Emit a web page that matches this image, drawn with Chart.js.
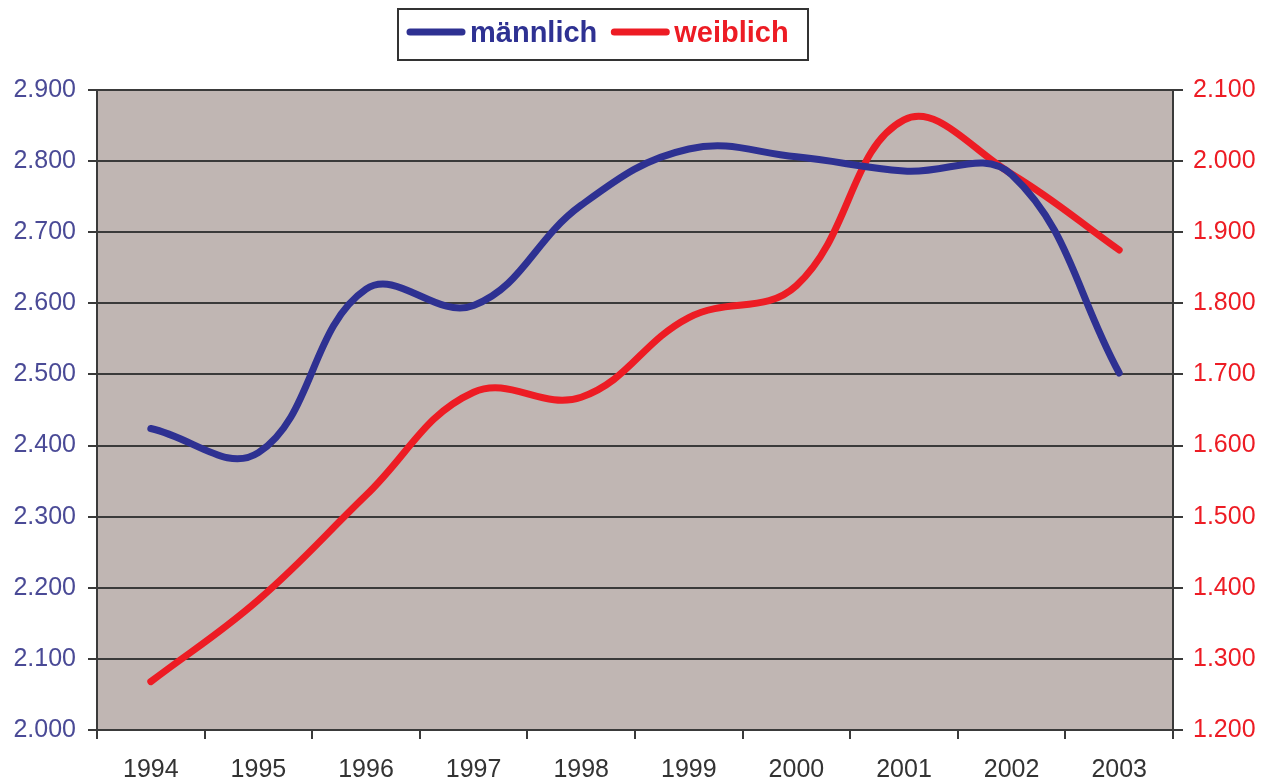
<!DOCTYPE html>
<html>
<head>
<meta charset="utf-8">
<script src="https://cdn.jsdelivr.net/npm/chart.js@4/dist/chart.umd.min.js"></script>
<style>
html,body{margin:0;padding:0;background:#fff;}
#wrap{width:1263px;height:778px;position:relative;}
</style>
</head>
<body>
<div id="wrap"><canvas id="c" width="1263" height="778"></canvas></div>
<script>
const categories = ['1994','1995','1996','1997','1998','1999','2000','2001','2002','2003'];
const maleValues = [2424, 2390, 2620, 2597, 2738, 2817, 2806, 2786, 2781, 2502];
const femaleValues = [1268, 1383, 1530, 1675, 1668, 1780, 1825, 2058, 1982, 1875];
const leftTickLabels = ['2.000','2.100','2.200','2.300','2.400','2.500','2.600','2.700','2.800','2.900'];
const rightTickLabels = ['1.200','1.300','1.400','1.500','1.600','1.700','1.800','1.900','2.000','2.100'];
const seriesNames = ['männlich','weiblich'];

const BLUE = '#2E3192';
const RED = '#ED1C24';
const GRID = '#3a3a3a';
const FONT = '"Liberation Sans", Arial, sans-serif';

const bgPlugin = {
  id: 'plotBg',
  beforeDraw(chart) {
    const a = chart.chartArea, ctx = chart.ctx;
    ctx.save();
    ctx.fillStyle = '#C0B6B3';
    ctx.fillRect(a.left, a.top, a.right - a.left, a.bottom - a.top);
    ctx.restore();
  }
};

const legendPlugin = {
  id: 'boxLegend',
  afterDraw(chart) {
    const ctx = chart.ctx;
    ctx.save();
    ctx.font = 'bold 29px ' + FONT;
    const bx = 398, by = 9, bw = 410, bh = 51;
    ctx.strokeStyle = '#333';
    ctx.lineWidth = 2;
    ctx.strokeRect(bx, by, bw, bh);
    let x = 407;
    const cy = 32;
    chart.data.datasets.forEach(ds => {
      ctx.strokeStyle = ds.borderColor;
      ctx.lineWidth = 7;
      ctx.lineCap = 'round';
      ctx.beginPath();
      ctx.moveTo(x + 3, cy);
      ctx.lineTo(x + 55, cy);
      ctx.stroke();
      ctx.fillStyle = ds.borderColor;
      ctx.textBaseline = 'middle';
      ctx.textAlign = 'left';
      ctx.fillText(ds.label, x + 63, cy + 2);
      x += 63 + ctx.measureText(ds.label).width + 14;
    });
    ctx.restore();
  }
};

new Chart(document.getElementById('c'), {
  type: 'line',
  data: {
    labels: categories,
    datasets: [
      { label: seriesNames[0], data: maleValues, yAxisID: 'y', borderColor: BLUE, backgroundColor: BLUE,
        borderWidth: 7, pointRadius: 0, tension: 0.4, borderCapStyle: 'round', fill: false },
      { label: seriesNames[1], data: femaleValues, yAxisID: 'y1', borderColor: RED, backgroundColor: RED,
        borderWidth: 7, pointRadius: 0, tension: 0.4, borderCapStyle: 'round', fill: false }
    ]
  },
  options: {
    responsive: false,
    animation: false,
    layout: { padding: { top: 90, left: 0, right: 0, bottom: 0 } },
    plugins: { legend: { display: false }, tooltip: { enabled: false } },
    scales: {
      x: {
        offset: true,
        grid: { offset: true, drawOnChartArea: false, drawTicks: true, tickLength: 9, color: GRID, lineWidth: 2 },
        border: { display: true, color: GRID, width: 2 },
        ticks: { color: '#333', font: { family: FONT, size: 25 }, padding: 16, maxRotation: 0, autoSkip: false },
        afterFit(s) { s.height = 48; }
      },
      y: {
        position: 'left',
        min: 2000, max: 2900,
        ticks: { stepSize: 100, color: '#4a4a96', font: { family: FONT, size: 25 }, padding: 12,
          callback: (v, i) => leftTickLabels[i] },
        grid: { color: GRID, lineWidth: 2, tickLength: 9, drawTicks: true },
        border: { display: true, color: GRID, width: 2 },
        afterFit(s) { s.width = 97; }
      },
      y1: {
        position: 'right',
        min: 1200, max: 2100,
        ticks: { stepSize: 100, color: RED, font: { family: FONT, size: 25 }, padding: 10,
          callback: (v, i) => rightTickLabels[i] },
        grid: { drawOnChartArea: false, color: GRID, lineWidth: 2, tickLength: 10, drawTicks: true },
        border: { display: true, color: GRID, width: 2 },
        afterFit(s) { s.width = 90; }
      }
    }
  },
  plugins: [bgPlugin, legendPlugin]
});
</script>
</body>
</html>
